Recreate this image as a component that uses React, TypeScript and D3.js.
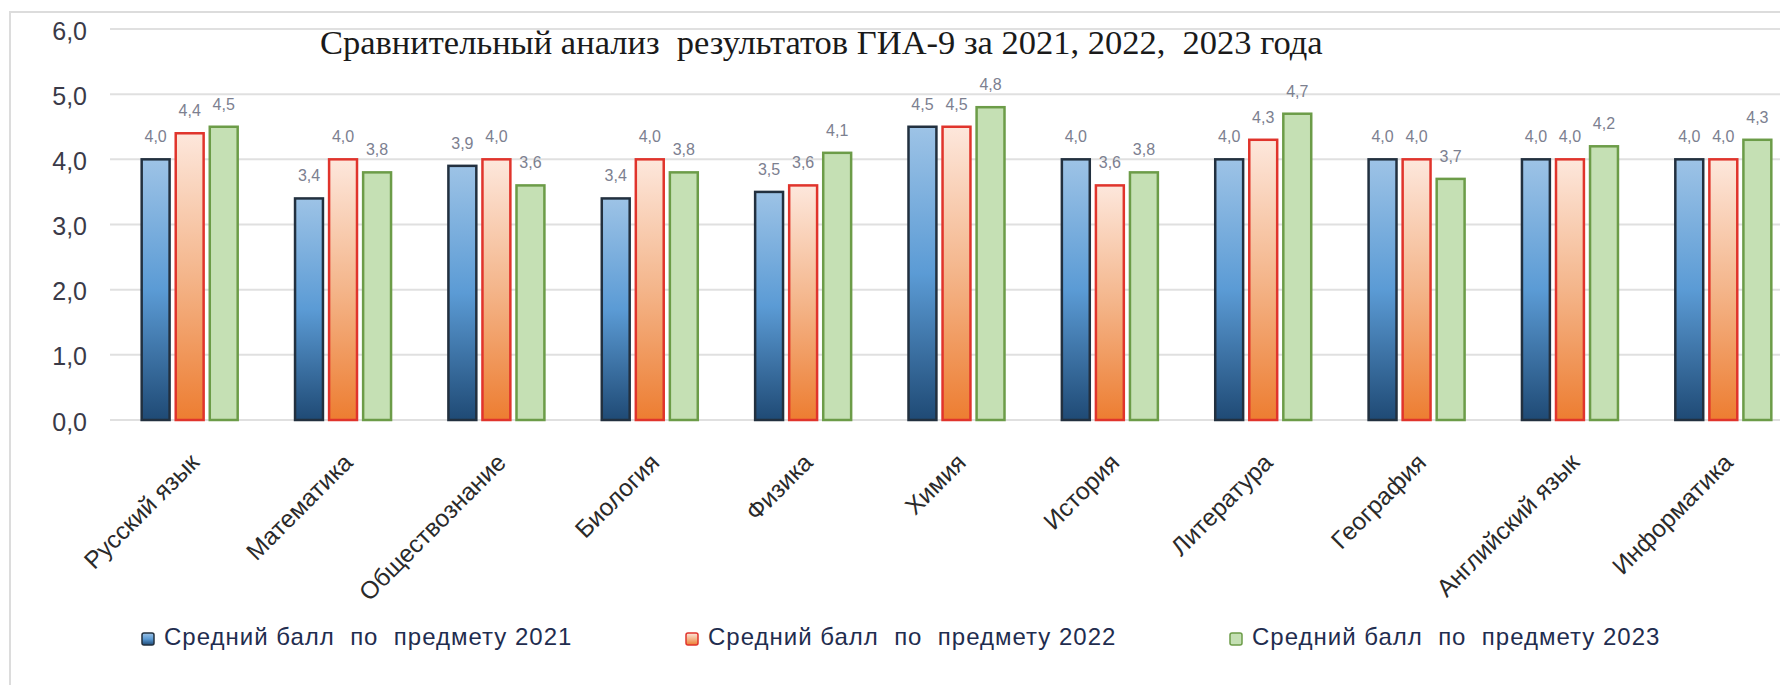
import React, { useEffect, useRef } from 'react';
import * as d3 from 'd3';

const subjects = [
  'Русский язык', 'Математика', 'Обществознание', 'Биология', 'Физика', 'Химия',
  'История', 'Литература', 'География', 'Английский язык', 'Информатика',
];
const years = ['2021', '2022', '2023'];
const scores2021 = [4.0, 3.4, 3.9, 3.4, 3.5, 4.5, 4.0, 4.0, 4.0, 4.0, 4.0];
const scores2022 = [4.4, 4.0, 4.0, 4.0, 3.6, 4.5, 3.6, 4.3, 4.0, 4.0, 4.0];
const scores2023 = [4.5, 3.8, 3.6, 3.8, 4.1, 4.8, 3.8, 4.7, 3.7, 4.2, 4.3];
const yTicks = [0, 1, 2, 3, 4, 5, 6];
const legendLabels = [
  'Средний балл  по  предмету 2021',
  'Средний балл  по  предмету 2022',
  'Средний балл  по  предмету 2023',
];
const title = 'Сравнительный анализ  результатов ГИА-9 за 2021, 2022,  2023 года';

const W = 1780;
const H = 685;
const fmt = (v: number) => v.toFixed(1).replace('.', ',');

export default function App() {
  const ref = useRef<SVGSVGElement>(null);

  useEffect(() => {
    document.body.style.margin = '0';
    if (!ref.current) return;
    const svg = d3.select(ref.current);
    svg.selectAll('*').remove();

    const series = [scores2021, scores2022, scores2023];
    const strokes = ['#22303f', '#e0342c', '#6c9c48'];

    // gradients
    const defs = svg.append('defs');
    const gBlue = defs.append('linearGradient').attr('id', 'gBlue').attr('x1', 0).attr('y1', 0).attr('x2', 0).attr('y2', 1);
    gBlue.append('stop').attr('offset', '0%').attr('stop-color', '#9dc3e6');
    gBlue.append('stop').attr('offset', '50%').attr('stop-color', '#5b9bd5');
    gBlue.append('stop').attr('offset', '100%').attr('stop-color', '#1f4a75');
    const gRed = defs.append('linearGradient').attr('id', 'gRed').attr('x1', 0).attr('y1', 0).attr('x2', 0).attr('y2', 1);
    gRed.append('stop').attr('offset', '0%').attr('stop-color', '#fde7dc');
    gRed.append('stop').attr('offset', '50%').attr('stop-color', '#f4b58a');
    gRed.append('stop').attr('offset', '100%').attr('stop-color', '#ed7d31');
    const fills = ['url(#gBlue)', 'url(#gRed)', '#c5e0b4'];

    // frame
    svg.append('path').attr('d', `M10,${H} V12 H${W}`).attr('fill', 'none')
      .attr('stroke', '#dcdcdc').attr('stroke-width', 2);

    const x = d3.scaleBand<string>().domain(subjects).range([113, 1800])
      .paddingInner(0.374).paddingOuter(0.187);
    const xs = d3.scaleBand<string>().domain(years).range([0, x.bandwidth()]).paddingInner(0.18);
    const y = d3.scaleLinear().domain([0, 6]).range([420, 29]);

    // grid
    svg.append('g').selectAll('line').data(yTicks).join('line')
      .attr('x1', 110).attr('x2', W).attr('y1', d => y(d)).attr('y2', d => y(d))
      .attr('stroke', '#e0e0e0').attr('stroke-width', 2);

    svg.append('g').selectAll('text').data(yTicks).join('text')
      .attr('x', 87).attr('y', d => y(d) + 4).attr('text-anchor', 'end')
      .attr('dominant-baseline', 'middle')
      .attr('font-family', 'Liberation Sans, Arial, sans-serif').attr('font-size', 25)
      .attr('fill', '#3a3a48').text(d => fmt(d));

    // title
    svg.append('text').attr('x', 320).attr('y', 54)
      .attr('font-family', 'Liberation Serif, Times New Roman, serif').attr('font-size', 34.5)
      .attr('fill', '#1a1a1a').style('white-space', 'pre').text(title);

    // bars
    series.forEach((vals, si) => {
      const g = svg.append('g');
      g.selectAll('rect').data(vals).join('rect')
        .attr('x', (d, i) => (x(subjects[i]) ?? 0) + (xs(years[si]) ?? 0))
        .attr('y', d => y(d))
        .attr('width', xs.bandwidth())
        .attr('height', d => y(0) - y(d))
        .attr('fill', fills[si])
        .attr('stroke', strokes[si]).attr('stroke-width', 2.5);
      g.selectAll('text').data(vals).join('text')
        .attr('x', (d, i) => (x(subjects[i]) ?? 0) + (xs(years[si]) ?? 0) + xs.bandwidth() / 2)
        .attr('y', d => y(d) - 17)
        .attr('text-anchor', 'middle')
        .attr('font-family', 'Liberation Sans, Arial, sans-serif').attr('font-size', 16)
        .attr('fill', '#7c8090').text(d => fmt(d));
    });

    // category labels
    svg.append('g').selectAll('text').data(subjects).join('text')
      .attr('transform', d => `translate(${(x(d) ?? 0) + x.bandwidth() / 2 + 11},${464}) rotate(-45)`)
      .attr('text-anchor', 'end')
      .attr('font-family', 'Liberation Sans, Arial, sans-serif').attr('font-size', 24.5)
      .attr('fill', '#2a2a2a').text(d => d);

    // legend
    const leg = svg.append('g').selectAll('g').data(legendLabels).join('g')
      .attr('transform', (d, i) => `translate(${142 + i * 544},639)`);
    leg.append('rect').attr('x', 0).attr('y', -6).attr('width', 12).attr('height', 12).attr('rx', 2)
      .attr('fill', (d, i) => fills[i]).attr('stroke', (d, i) => strokes[i]).attr('stroke-width', 1.5);
    leg.append('text').attr('x', 22).attr('y', 0).attr('dominant-baseline', 'middle')
      .attr('font-family', 'Liberation Sans, Arial, sans-serif').attr('font-size', 24)
      .attr('letter-spacing', 1)
      .attr('fill', '#1f2d4f').style('white-space', 'pre').text(d => d);
  }, []);

  return (
    <svg ref={ref} width={W} height={H} style={{ display: 'block', background: '#fff' }} />
  );
}
